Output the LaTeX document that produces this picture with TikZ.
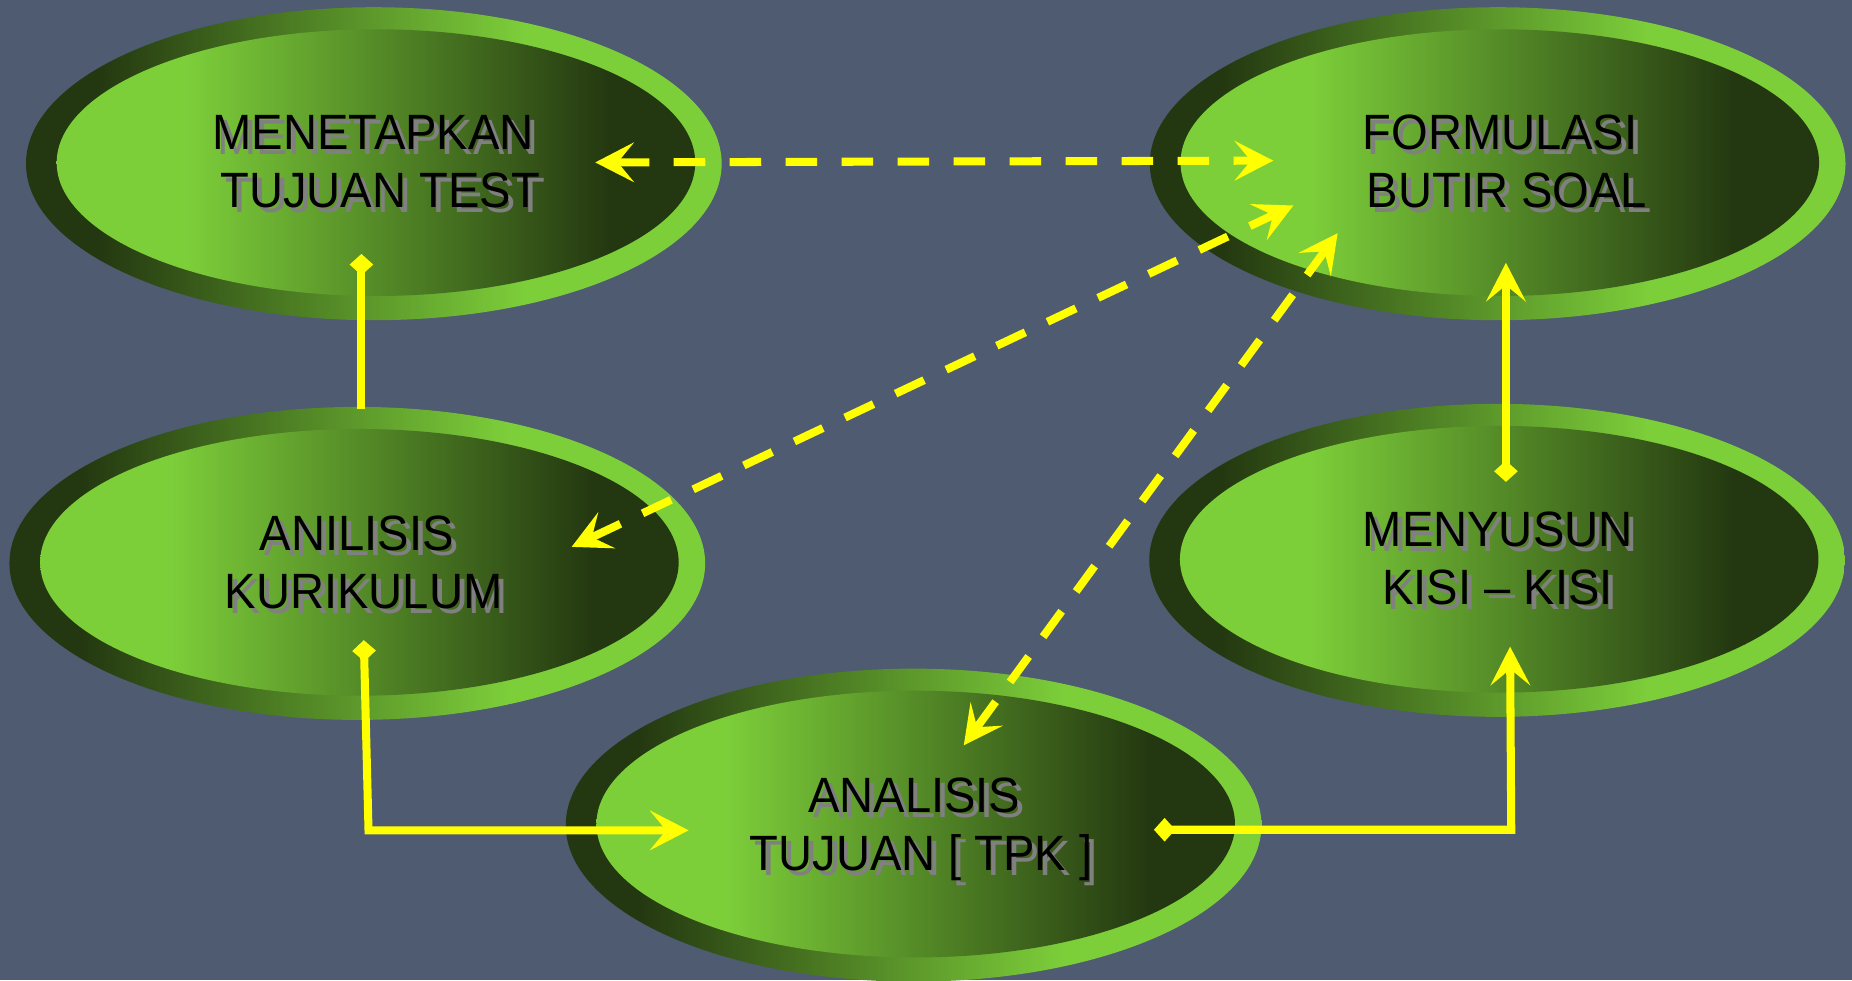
\documentclass[tikz,border=0pt]{standalone}
\usepackage{fontspec}
\setmainfont{Liberation Sans}
\newfontfamily\lblfont[FakeStretch=0.95]{Liberation Sans}
\usetikzlibrary{shapes.geometric,arrows.meta}
\definecolor{bg}{RGB}{78,91,112}
\definecolor{gl}{RGB}{125,207,58}
\definecolor{gd}{RGB}{35,55,16}
\definecolor{ylw}{RGB}{255,255,0}
\definecolor{shd}{RGB}{128,128,128}
\pgfdeclarehorizontalshading{outersh}{100bp}{color(0bp)=(gd); color(30bp)=(gd); color(61bp)=(gl); color(100bp)=(gl)}
\pgfdeclarehorizontalshading{innersh}{100bp}{color(0bp)=(gl); color(35bp)=(gl); color(68.5bp)=(gd); color(100bp)=(gd)}
\tikzset{
  outerell/.style={ellipse, minimum width=589pt, minimum height=265pt, inner sep=0pt, outer sep=0pt, shade, shading=outersh},
  innerell/.style={shade, shading=innersh},
  lbl/.style={font=\lblfont\fontsize{42}{49}\selectfont, align=center, inner sep=0pt, text=black},
  lblsh/.style={lbl, text=shd},
  sline/.style={draw=ylw, line width=6.8pt},
  dline/.style={draw=ylw, line width=6.8pt, dash pattern=on 26.7pt off 20.7pt},
  tipS/.tip={Stealth[length=33pt,width=34pt,inset=14pt,line width=0pt]},
  tipD/.tip={Diamond[length=18pt,width=20pt,line width=0pt]},
}
\begin{document}
\begin{tikzpicture}[x=1pt,y=-1pt]
\useasboundingbox (0,0) rectangle (1568,830);
\fill[bg] (0,0) rectangle (1568,830);

% A: MENETAPKAN TUJUAN TEST
\node[outerell] (A) at (316.5,138.6) {};
\path[innerell] (318.3,137.7) ellipse [x radius=270.3, y radius=112.9];
\node[lblsh] (Ash) at (320.2,141.2) {MENETAPKAN\\\hspace*{0.28em}TUJUAN TEST};
\node[lbl] (At) at (316,137) {MENETAPKAN\\\hspace*{0.28em}TUJUAN TEST};

% B: FORMULASI BUTIR SOAL
\node[outerell] (B) at (1268,138.6) {};
\path[innerell] (1269.8,137.7) ellipse [x radius=270.3, y radius=112.9];
\node[lblsh] (Bsh) at (1274.2,141.2) {FORMULASI\\\hspace*{0.28em}BUTIR SOAL};
\node[lbl] (Bt) at (1270,137) {FORMULASI\\\hspace*{0.28em}BUTIR SOAL};

% C: ANILISIS KURIKULUM
\node[outerell] (C) at (302.5,477) {};
\path[innerell] (304.3,476.1) ellipse [x radius=270.3, y radius=112.9];
\node[lblsh] (Csh) at (306.2,480.2) {ANILISIS\\\hspace*{0.28em}KURIKULUM};
\node[lbl] (Ct) at (302,476) {ANILISIS\\\hspace*{0.28em}KURIKULUM};

% D: MENYUSUN KISI - KISI
\node[outerell] (D) at (1267.5,474.4) {};
\path[innerell] (1269.3,473.5) ellipse [x radius=270.3, y radius=112.9];
\node[lblsh] (Dsh) at (1272.2,477.2) {MENYUSUN\\KISI – KISI};
\node[lbl] (Dt) at (1268,473) {MENYUSUN\\KISI – KISI};

% E: ANALISIS TUJUAN [ TPK ]
\node[outerell] (E) at (773.5,698.6) {};
\path[innerell] (775.3,697.7) ellipse [x radius=270.3, y radius=112.9];
\node[lblsh] (Esh) at (778.2,706.2) {ANALISIS\\\hspace*{0.28em}TUJUAN [ TPK ]};
\node[lbl] (Et) at (774,702) {ANALISIS\\\hspace*{0.28em}TUJUAN [ TPK ]};

% connector end points
\coordinate (abA) at (504,137.5);
\coordinate (abB) at (1078,136);
\coordinate (bcB) at (1095,174);
\coordinate (bcC) at (484,463);
\coordinate (beB) at (1132.5,197.5);
\coordinate (beE) at (816,631);
\coordinate (acA) at (306,215);
\coordinate (acC) at (306,346);
\coordinate (ceC) at (308,542);
\coordinate (ceK) at (312,703);
\coordinate (ceE) at (583,703);
\coordinate (edE) at (977,702.5);
\coordinate (edK) at (1279.5,702.5);
\coordinate (edD) at (1278.5,547.5);
\coordinate (dbD) at (1275,408);
\coordinate (dbB) at (1275,222.5);

% dashed connectors
\draw[dline, arrows={tipS-tipS}] (abA) -- (abB);
\draw[dline, arrows={tipS-tipS}] (bcC) -- (bcB);
\draw[dline, arrows={tipS-tipS}] (beE) -- (beB);

% solid connectors
\draw[sline, arrows={tipD-}] (acA) -- (acC);
\draw[sline, arrows={tipD-tipS}] (ceC) -- (ceK) -- (ceE);
\draw[sline, arrows={tipD-tipS}] (edE) -- (edK) -- (edD);
\draw[sline, arrows={tipD-tipS}] (dbD) -- (dbB);
\end{tikzpicture}
\end{document}
